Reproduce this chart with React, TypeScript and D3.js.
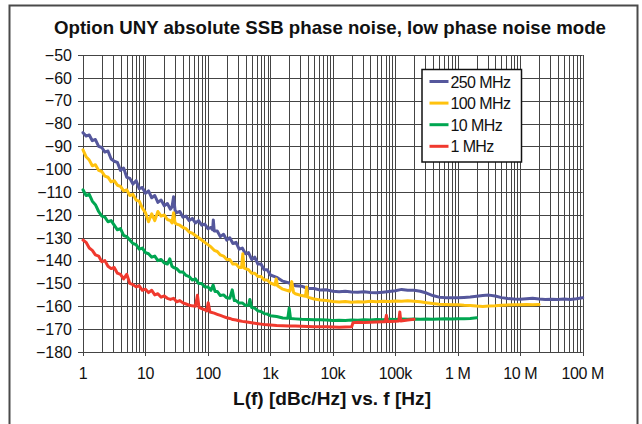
import React from "react";
import * as d3 from "d3";

type P = [number, number];

const title = "Option UNY absolute SSB phase noise, low phase noise mode";
const xAxisTitle = "L(f) [dBc/Hz] vs. f [Hz]";
const yTicks = [-50, -60, -70, -80, -90, -100, -110, -120, -130, -140, -150, -160, -170, -180];
const xTickValues = [1, 10, 100, 1e3, 1e4, 1e5, 1e6, 1e7, 1e8];
const xTickLabels = ["1", "10", "100", "1k", "10k", "100k", "1 M", "10 M", "100 M"];
const seriesNames = ["250 MHz", "100 MHz", "10 MHz", "1 MHz"];
const seriesColors = ["#55579c", "#ffc20e", "#00a651", "#f0392e"];

const s250: P[] = [
  [1, -84.0], [1.12, -85.5], [1.26, -85.0], [1.41, -87.5], [1.58, -87.0], [1.78, -90.0], [2, -90.5], [2.24, -92.5],
  [2.51, -92.0], [2.82, -95.5], [3.16, -96.5], [3.55, -97.0], [3.98, -100.5], [4.47, -99.5], [5.01, -103.5], [5.62, -104.0],
  [6.31, -106.5], [7.08, -105.0], [7.94, -108.5], [8.91, -108.0], [10, -110.5], [11.2, -109.5], [12.6, -112.5], [14.1, -111.5],
  [15.8, -114.5], [17.8, -113.5], [20, -116.0], [22.4, -115.0], [25.1, -117.5], [26.6, -116.5], [28.2, -112.0], [29.8, -118.0],
  [31.6, -119.0], [35.5, -118.5], [39.8, -121.0], [44.7, -120.5], [50.1, -122.5], [56.2, -121.5], [63.1, -123.5], [70.8, -122.5],
  [79.4, -124.5], [89.1, -124.0], [100, -126.0], [112, -125.5], [119, -126.5], [122, -122.2], [126, -127.0], [141, -127.0],
  [158, -129.5], [178, -128.5], [200, -131.0], [224, -130.0], [251, -132.5], [282, -132.0], [316, -135.0], [355, -134.5],
  [398, -137.0], [447, -136.5], [501, -139.5], [562, -138.5], [631, -141.5], [708, -141.5], [794, -144.0], [891, -144.0],
  [1000, -146.3], [1260, -147.3], [1580, -149.0], [2000, -149.8], [2510, -151.0], [3160, -151.2], [3980, -152.2], [5010, -152.2],
  [6310, -152.9], [7940, -152.8], [10000, -153.4], [12600, -153.6], [15800, -153.4], [20000, -153.7], [25100, -153.8], [31600, -153.6],
  [39800, -154.0], [50100, -154.1], [63100, -153.8], [79400, -153.5], [100000, -153.2], [126000, -152.6], [158000, -153.0], [200000, -153.0],
  [251000, -153.4], [316000, -154.2], [398000, -155.3], [501000, -156.0], [631000, -156.2], [794000, -156.3], [1e6, -156.3], [1.26e6, -156.1],
  [1.58e6, -155.9], [2e6, -155.6], [2.51e6, -155.3], [3.16e6, -155.1], [3.98e6, -155.5], [5.01e6, -156.2], [6.31e6, -156.6], [7.94e6, -156.8],
  [1e7, -156.9], [1.26e7, -156.7], [1.58e7, -156.5], [2e7, -156.8], [2.51e7, -157.0], [3.16e7, -156.9], [3.98e7, -157.0], [5.01e7, -156.8],
  [6.31e7, -157.0], [7.94e7, -156.7], [1e8, -156.3],
];

const s100: P[] = [
  [1, -91.5], [1.12, -94.5], [1.26, -96.0], [1.41, -98.5], [1.58, -98.0], [1.78, -100.5], [2, -101.0], [2.24, -103.0],
  [2.51, -103.5], [2.82, -105.5], [3.16, -105.0], [3.55, -107.0], [3.98, -107.5], [4.47, -109.5], [5.01, -109.0], [5.62, -111.5],
  [6.31, -111.0], [7.08, -113.5], [7.94, -114.0], [8.91, -117.0], [10, -119.0], [11.2, -123.0], [12.6, -119.5], [14.1, -122.5],
  [15.8, -118.5], [17.8, -120.5], [20, -120.0], [22.4, -122.0], [25.1, -122.5], [26.6, -123.5], [28.2, -119.0], [29.8, -123.5],
  [31.6, -124.0], [35.5, -124.5], [39.8, -125.5], [44.7, -126.0], [50.1, -127.5], [56.2, -128.0], [63.1, -129.0], [70.8, -130.0],
  [79.4, -131.0], [89.1, -132.0], [100, -133.0], [112, -134.0], [126, -135.5], [141, -136.0], [158, -137.5], [178, -138.0],
  [200, -139.5], [224, -139.5], [251, -141.5], [282, -141.5], [316, -143.0], [345, -143.0], [362, -137.0], [378, -143.2],
  [398, -143.5], [447, -144.0], [501, -145.5], [562, -145.5], [631, -147.0], [708, -147.0], [794, -148.5], [891, -148.5],
  [1000, -149.8], [1180, -150.6], [1240, -148.0], [1300, -151.0], [1580, -152.5], [2050, -153.4], [2200, -149.2], [2350, -154.0],
  [2510, -154.5], [3160, -155.3], [3650, -155.6], [3800, -151.5], [3950, -156.0], [5010, -156.8], [6310, -157.2], [7940, -157.5],
  [10000, -157.9], [12600, -158.1], [15800, -157.9], [20000, -158.2], [25100, -158.0], [31600, -158.1], [39800, -157.8], [50100, -158.0],
  [63100, -157.8], [79400, -157.9], [100000, -157.7], [126000, -157.8], [158000, -157.6], [200000, -157.8], [251000, -158.0], [316000, -158.4],
  [398000, -158.8], [501000, -159.1], [631000, -159.2], [794000, -159.3], [1e6, -159.3], [1.26e6, -159.5], [1.58e6, -159.6], [2e6, -159.9],
  [2.51e6, -160.1], [3.16e6, -159.9], [3.98e6, -159.8], [5.01e6, -159.5], [6.31e6, -159.4], [7.94e6, -159.3], [1e7, -159.3], [1.26e7, -159.2],
  [1.58e7, -159.3], [2e7, -159.2],
];

const s10: P[] = [
  [1, -109.0], [1.12, -111.5], [1.26, -111.0], [1.41, -114.0], [1.58, -115.5], [1.78, -118.5], [2, -120.5], [2.24, -121.0],
  [2.51, -123.0], [2.82, -122.5], [3.16, -124.5], [3.55, -126.5], [3.98, -126.0], [4.47, -129.0], [5.01, -129.5], [5.62, -131.0],
  [6.31, -132.5], [7.08, -133.0], [7.94, -135.0], [8.91, -134.5], [10, -136.5], [11.2, -137.0], [12.6, -138.5], [14.1, -138.0],
  [15.8, -140.0], [17.8, -139.5], [20, -141.0], [22.4, -141.5], [24.5, -139.2], [26.6, -142.5], [28.2, -143.0], [31.6, -143.5],
  [35.5, -145.0], [39.8, -145.0], [44.7, -146.5], [50.1, -147.0], [56.2, -148.5], [63.1, -148.0], [70.8, -150.0], [79.4, -150.0],
  [89.1, -151.5], [100, -151.5], [112, -153.0], [121, -150.7], [130, -153.5], [141, -153.5], [158, -155.3], [178, -155.0],
  [200, -156.3], [224, -156.5], [245, -152.8], [265, -157.5], [282, -157.5], [316, -158.6], [355, -158.5], [398, -159.6],
  [447, -159.5], [470, -157.0], [501, -160.5], [562, -160.8], [631, -162.0], [708, -162.3], [794, -163.2], [891, -163.4],
  [1000, -164.1], [1260, -164.5], [1580, -165.1], [1900, -165.2], [2000, -160.8], [2100, -165.3], [2510, -165.5], [3160, -165.7],
  [3980, -165.8], [5010, -165.9], [6310, -165.9], [7940, -166.0], [10000, -166.2], [12600, -166.1], [15800, -166.2], [20000, -166.0],
  [25100, -166.1], [31600, -165.9], [39800, -166.0], [50100, -165.8], [63100, -165.9], [79400, -165.7], [100000, -165.8], [126000, -165.6],
  [158000, -165.7], [200000, -165.6], [251000, -165.7], [316000, -165.6], [398000, -165.7], [501000, -165.6], [631000, -165.5], [794000, -165.6],
  [1e6, -165.5], [1.26e6, -165.4], [1.58e6, -165.3], [2e6, -165.0],
];

const s1: P[] = [
  [1, -131.0], [1.12, -132.0], [1.26, -134.5], [1.41, -135.5], [1.58, -137.5], [1.78, -138.0], [2, -140.5], [2.24, -140.0],
  [2.51, -142.5], [2.82, -143.5], [3.16, -143.0], [3.55, -145.5], [3.98, -146.0], [4.47, -148.0], [5.01, -146.0], [5.62, -150.0],
  [6.31, -150.5], [7.08, -151.5], [7.94, -151.0], [8.91, -153.0], [10, -152.5], [11.2, -154.0], [12.6, -153.0], [14.1, -155.0],
  [15.8, -154.5], [17.8, -156.0], [20, -155.5], [22.4, -156.5], [25.1, -157.0], [28.2, -156.5], [31.6, -158.0], [35.5, -157.5],
  [39.8, -158.5], [44.7, -159.0], [50.1, -159.5], [56.2, -159.8], [63.1, -160.0], [68, -155.2], [72, -160.5], [79.4, -161.0],
  [89.1, -161.5], [96, -162.0], [101, -158.4], [108, -162.5], [126, -163.0], [141, -163.5], [158, -164.0], [178, -164.5],
  [200, -165.0], [224, -165.3], [251, -165.8], [282, -166.0], [316, -166.3], [355, -166.6], [398, -166.8], [447, -167.0],
  [501, -167.2], [562, -167.4], [631, -167.6], [708, -167.8], [794, -168.0], [891, -168.1], [1000, -168.2], [1260, -168.4],
  [1580, -168.5], [2000, -168.6], [2510, -168.6], [3160, -168.7], [3980, -168.8], [5010, -168.9], [6310, -169.0], [7940, -169.0],
  [10000, -169.1], [12600, -169.2], [15800, -169.1], [20000, -169.0], [21000, -167.2], [25100, -167.0], [31600, -167.1], [39800, -167.0],
  [50100, -166.9], [63100, -166.8], [69000, -166.8], [72000, -163.9], [75000, -166.7], [79400, -166.7], [100000, -166.5], [114000, -166.4],
  [118000, -162.5], [122000, -166.4], [158000, -166.0], [200000, -165.7],
];

const allSeries = [s250, s100, s10, s1];

const FONT = "'Liberation Sans', Arial, Helvetica, sans-serif";

export default function App() {
  const x = d3.scaleLog().domain([1, 1e8]).range([83, 582.7]);
  const y = d3.scaleLinear().domain([-180, -50]).range([352, 55]);
  const line = d3
    .line<P>()
    .x((d) => x(d[0]))
    .y((d) => y(d[1]));

  const gridF: { f: number; major: boolean }[] = [];
  for (let e = 0; e < 8; e++) {
    for (let k = 1; k <= 9; k++) gridF.push({ f: k * Math.pow(10, e), major: k === 1 });
  }
  gridF.push({ f: 1e8, major: true });

  const x0 = x(1);
  const x1 = x(1e8);
  const yTop = y(-50);
  const yBot = y(-180);

  return (
    <svg
      width={642}
      height={424}
      style={{ position: "absolute", left: 0, top: 0, background: "#fff" }}
      fontFamily={FONT}
    >
      <rect x={0} y={0} width={642} height={424} fill="#fff" />
      <rect x={9.5} y={5.5} width={628} height={440} fill="none" stroke="#4a4a4a" strokeWidth={2} />
      <text
        x={330}
        y={34}
        textAnchor="middle"
        fontSize={18.6}
        fontWeight="bold"
        fill="#111"
        textLength={552}
        lengthAdjust="spacingAndGlyphs"
      >
        {title}
      </text>

      {/* vertical grid */}
      {gridF.map((g, i) => {
        const xx = Math.round(x(g.f)) + 0.5;
        return (
          <line
            key={"v" + i}
            x1={xx}
            x2={xx}
            y1={yTop}
            y2={g.major ? yBot + 4 : yBot}
            stroke="#444"
            strokeWidth={1}
          />
        );
      })}
      {/* horizontal grid */}
      {yTicks.map((t) => {
        const yy = Math.round(y(t)) + 0.5;
        return (
          <line key={"h" + t} x1={x0 - 5} x2={x1} y1={yy} y2={yy} stroke="#444" strokeWidth={1} />
        );
      })}

      {/* y labels */}
      {yTicks.map((t) => (
        <text key={"yl" + t} x={72} y={y(t) + 5.8} textAnchor="end" fontSize={16} fill="#111">
          {"\u2212" + Math.abs(t)}
        </text>
      ))}
      {/* x labels */}
      {xTickValues.map((v, i) => (
        <text key={"xl" + v} x={x(v)} y={379} textAnchor="middle" fontSize={16} fill="#111" letterSpacing={-0.4}>
          {xTickLabels[i]}
        </text>
      ))}

      {/* series */}
      {allSeries.map((s, i) => (
        <path
          key={"s" + i}
          d={line(s) || ""}
          fill="none"
          stroke={seriesColors[i]}
          strokeWidth={3}
          strokeLinejoin="round"
          strokeLinecap="round"
        />
      ))}

      {/* legend */}
      <rect x={422} y={69.5} width={99.5} height={92.5} fill="#fff" stroke="#111" strokeWidth={1.5} />
      {seriesNames.map((n, i) => {
        const cy = 81.5 + i * 21.6;
        return (
          <g key={"lg" + i}>
            <line x1={429.5} x2={448.5} y1={cy} y2={cy} stroke={seriesColors[i]} strokeWidth={3} />
            <text x={450.5} y={cy + 6} fontSize={16} fill="#111" letterSpacing={-0.6}>
              {n}
            </text>
          </g>
        );
      })}

      <text
        x={332}
        y={405}
        textAnchor="middle"
        fontSize={18.5}
        fontWeight="bold"
        fill="#111"
        textLength={198}
        lengthAdjust="spacingAndGlyphs"
      >
        {xAxisTitle}
      </text>
    </svg>
  );
}
